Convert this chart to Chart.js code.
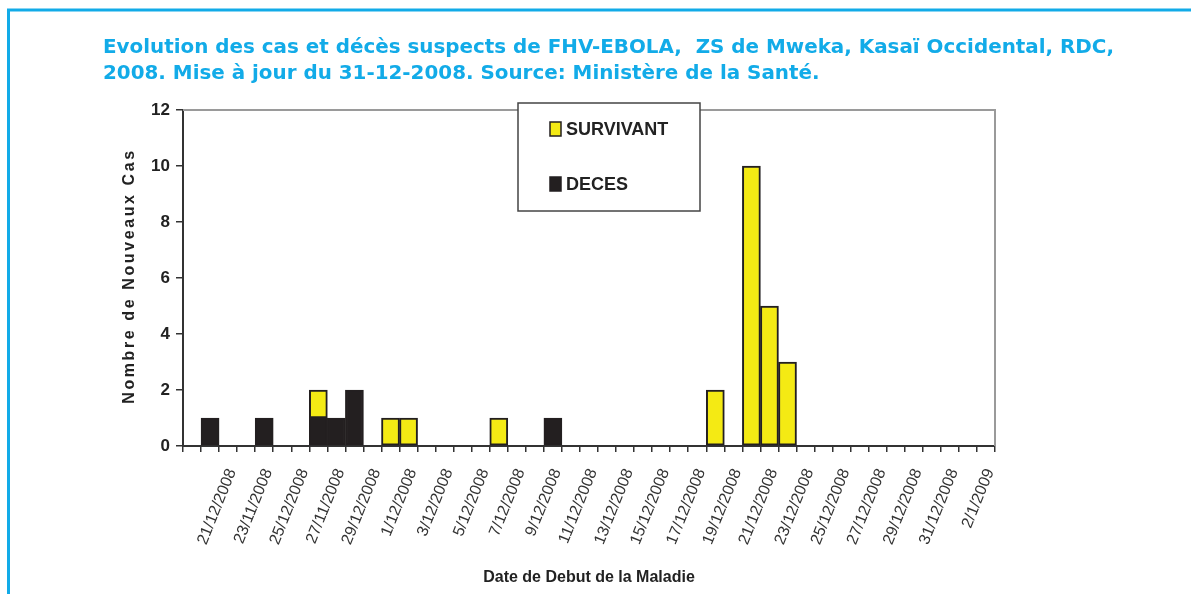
<!DOCTYPE html>
<html><head><meta charset="utf-8">
<script src="https://cdn.jsdelivr.net/npm/chart.js@4.4.1/dist/chart.umd.min.js"></script>
<style>html,body{margin:0;padding:0;background:#fff;overflow:hidden}#wrap{position:relative;width:1191px;height:594px}</style>
</head><body><div id="wrap"><canvas id="c" width="1191" height="594"></canvas></div>
<script>
// Categories: one per day, 19/11/2008 .. 2/1/2009
const days = ['19/11/2008','20/11/2008','21/11/2008','22/11/2008','23/11/2008','24/11/2008','25/11/2008','26/11/2008','27/11/2008','28/11/2008','29/11/2008','30/11/2008',
  '1/12/2008','2/12/2008','3/12/2008','4/12/2008','5/12/2008','6/12/2008','7/12/2008','8/12/2008','9/12/2008','10/12/2008','11/12/2008','12/12/2008','13/12/2008','14/12/2008','15/12/2008','16/12/2008','17/12/2008','18/12/2008','19/12/2008','20/12/2008','21/12/2008','22/12/2008','23/12/2008','24/12/2008','25/12/2008','26/12/2008','27/12/2008','28/12/2008','29/12/2008','30/12/2008','31/12/2008','1/1/2009','2/1/2009'];
// Tick labels as printed on the original chart
const tickLabels = ['','','21/12/2008','','23/11/2008','','25/12/2008','','27/11/2008','','29/12/2008','','1/12/2008','','3/12/2008','','5/12/2008','','7/12/2008','','9/12/2008','','11/12/2008','','13/12/2008','','15/12/2008','','17/12/2008','','19/12/2008','','21/12/2008','','23/12/2008','','25/12/2008','','27/12/2008','','29/12/2008','','31/12/2008','','2/1/2009'];
const deces     = [0,1,0,0,1,0,0,1,1,2,0,0,0,0,0,0,0,0,0,0,1,0,0,0,0,0,0,0,0,0,0,0,0,0,0,0,0,0,0,0,0,0,0,0,0];
const survivant = [0,0,0,0,0,0,0,1,0,0,0,1,1,0,0,0,0,1,0,0,0,0,0,0,0,0,0,0,0,2,0,10,5,3,0,0,0,0,0,0,0,0,0,0,0];
const seriesNames = ['DECES','SURVIVANT'];
const yTicks = [0,2,4,6,8,10,12];
const titleLines = ['Evolution des cas et décès suspects de FHV-EBOLA,  ZS de Mweka, Kasaï Occidental, RDC,',
                    '2008. Mise à jour du 31-12-2008. Source: Ministère de la Santé.'];
const yTitle = 'Nombre de Nouveaux Cas';
const xTitle = 'Date de Debut de la Maladie';

const TITLE_FAMILY = '"DejaVu Sans", sans-serif';
const ARIAL = '"Liberation Sans", Arial, sans-serif';
function fitSize(text, family, weight, target){
  const cx = document.createElement('canvas').getContext('2d');
  cx.font = weight + ' 100px ' + family;
  const w = cx.measureText(text).width;
  return Math.round(100 * target / w * 10) / 10;
}
const titleSize = fitSize(titleLines[0], TITLE_FAMILY, 'bold', 1012);

const INK = '#231F20';
const frame = {
  id: 'frame',
  beforeDraw(chart){
    const ctx = chart.ctx;
    ctx.save();
    ctx.fillStyle = '#fff'; ctx.fillRect(0,0,chart.width,chart.height);
    ctx.strokeStyle = '#12ABE8'; ctx.lineWidth = 3;
    ctx.beginPath(); ctx.moveTo(8.5, 594); ctx.lineTo(8.5, 10); ctx.lineTo(1191, 10); ctx.stroke();
    ctx.restore();
  },
  afterDraw(chart){
    const ctx = chart.ctx, a = chart.chartArea;
    ctx.save();
    ctx.strokeStyle = '#9a9a9a'; ctx.lineWidth = 2;
    ctx.beginPath(); ctx.moveTo(a.left, a.top); ctx.lineTo(a.right, a.top); ctx.lineTo(a.right, a.bottom); ctx.stroke();
    // y axis title (letter-spaced, like the original)
    ctx.save();
    ctx.translate(a.left - 53, (a.top + a.bottom) / 2 - 2);
    ctx.rotate(-Math.PI / 2);
    ctx.fillStyle = '#222'; ctx.font = 'bold 16px ' + ARIAL;
    ctx.textAlign = 'center'; ctx.textBaseline = 'middle';
    try { ctx.letterSpacing = '2.6px'; } catch (e) {}
    ctx.fillText(yTitle, 0, 0);
    ctx.restore();
    // legend box
    const bx = a.left + 335, by = a.top - 7, bw = 182, bh = 108;
    ctx.fillStyle = '#fff'; ctx.fillRect(bx, by, bw, bh);
    ctx.strokeStyle = '#444'; ctx.lineWidth = 1.5; ctx.strokeRect(bx, by, bw, bh);
    const items = [chart.data.datasets[1], chart.data.datasets[0]];
    items.forEach((ds, i) => {
      const cy = by + 26 + i * 55;
      ctx.fillStyle = ds.backgroundColor; ctx.fillRect(bx + 32, cy - 7, 11, 14);
      ctx.strokeStyle = INK; ctx.lineWidth = 1.5; ctx.strokeRect(bx + 32, cy - 7, 11, 14);
      ctx.fillStyle = '#222'; ctx.font = 'bold 18px ' + ARIAL;
      ctx.textBaseline = 'middle'; ctx.textAlign = 'left';
      ctx.fillText(ds.label, bx + 48, cy + 1);
    });
    ctx.restore();
  }
};

new Chart(document.getElementById('c'), {
  type: 'bar',
  data: {
    labels: days,
    datasets: [
      { label: seriesNames[0], data: deces, backgroundColor: INK, borderColor: INK, borderWidth: 2, borderSkipped: false },
      { label: seriesNames[1], data: survivant, backgroundColor: '#F4EA14', borderColor: INK, borderWidth: 2, borderSkipped: false }
    ]
  },
  options: {
    responsive: false, animation: false,
    devicePixelRatio: 1,
    layout: { padding: { left: 103, right: 0, top: 0, bottom: 0 } },
    datasets: { bar: { barPercentage: 1, categoryPercentage: 1 } },
    plugins: {
      legend: { display: false },
      tooltip: { enabled: false },
      title: {
        display: true, text: titleLines, align: 'start', color: '#12ABE8',
        font: { family: TITLE_FAMILY, weight: 'bold', size: titleSize, lineHeight: 26.5 / titleSize },
        padding: { top: 34.5, bottom: 22.5 }
      }
    },
    scales: {
      x: {
        stacked: true, offset: true,
        grid: { display: true, drawOnChartArea: false, drawTicks: true, tickLength: 6, color: '#333', lineWidth: 1.5, offset: true },
        border: { display: true, color: '#333', width: 2 },
        ticks: { autoSkip: false, maxRotation: 68, minRotation: 68, labelOffset: 4, padding: 14, color: '#333',
                 font: { family: ARIAL, size: 16 },
                 callback: (v, i) => tickLabels[i] },
        title: { display: true, text: xTitle, color: '#222', font: { family: ARIAL, weight: 'bold', size: 16, lineHeight: 1.2 }, padding: { top: 0, bottom: 7 } },
        afterFit: s => { s.height = 148; }
      },
      y: {
        stacked: true, min: 0, max: 12, position: 'left',
        afterBuildTicks: s => { s.ticks = yTicks.map(v => ({ value: v })); },
        grid: { display: true, drawOnChartArea: false, drawTicks: true, tickLength: 7, color: '#333', lineWidth: 1.5 },
        border: { display: true, color: '#333', width: 2 },
        ticks: { padding: 6, color: '#222', font: { family: ARIAL, weight: 'bold', size: 17 } },
        title: { display: false, text: yTitle },
        afterFit: s => { s.width = 80; }
      },
      y2: {
        position: 'right', display: true, min: 0, max: 1,
        grid: { display: false }, border: { display: false }, ticks: { display: false },
        afterFit: s => { s.width = 196; }
      }
    }
  },
  plugins: [frame]
});
</script></body></html>
